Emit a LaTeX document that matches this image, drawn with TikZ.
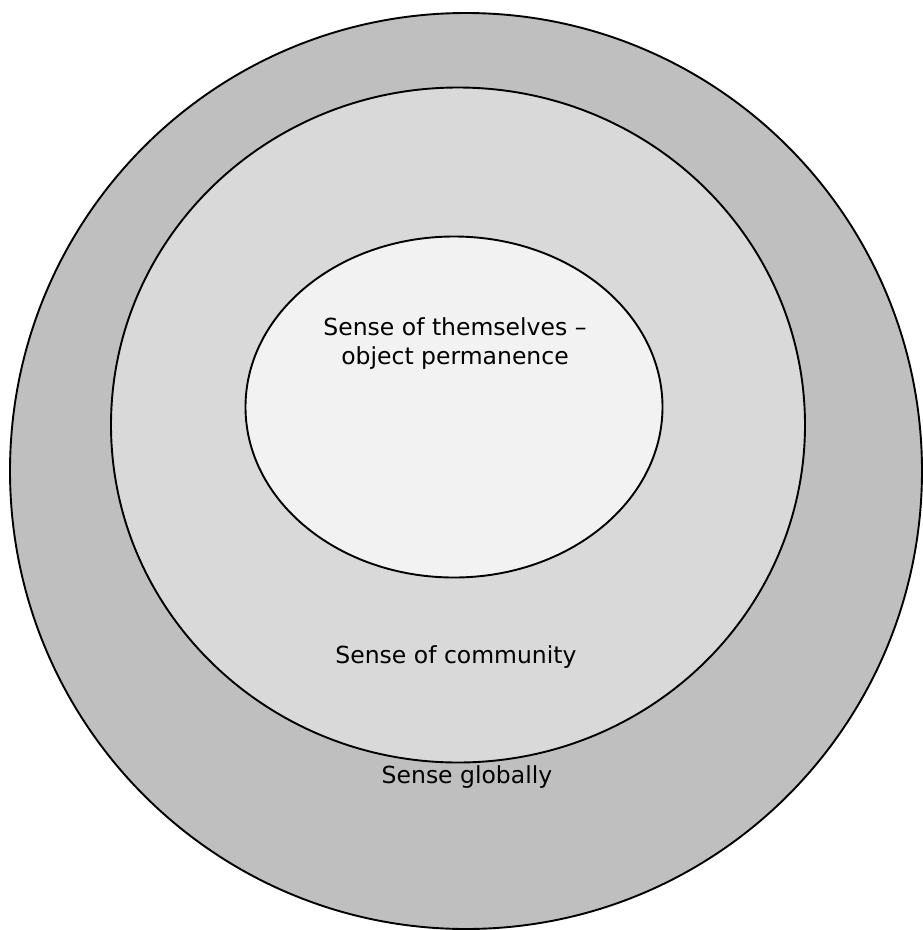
\documentclass[tikz,border=0pt]{standalone}
\usepackage{fontspec}
\setmainfont{DejaVu Sans}
\usetikzlibrary{shapes.geometric}

\begin{document}
\begin{tikzpicture}[x=1pt, y=-1pt, line width=1.9pt,
    ring/.style={ellipse, draw, inner sep=0pt},
    label/.style={font=\fontsize{23.5}{29}\selectfont, align=center}]
    \useasboundingbox (0,0) rectangle (923,930);

    \node[ring, fill={rgb,255:red,191;green,191;blue,191}, minimum width=912pt, minimum height=916pt] (globe) at (466,471) {};
    \node[ring, fill={rgb,255:red,217;green,217;blue,217}, minimum width=694pt, minimum height=675pt] (community) at (458,425) {};
    \node[ring, fill={rgb,255:red,242;green,242;blue,242}, minimum width=417pt, minimum height=341pt] (self) at (454,407) {};

    \node[label] (selftext) at (455,344) {Sense of themselves –\\object permanence};
    \node[label] (commtext) at (456,657) {Sense of community};
    \node[label] (globetext) at (467,777) {Sense globally};
  \end{tikzpicture}
\end{document}
